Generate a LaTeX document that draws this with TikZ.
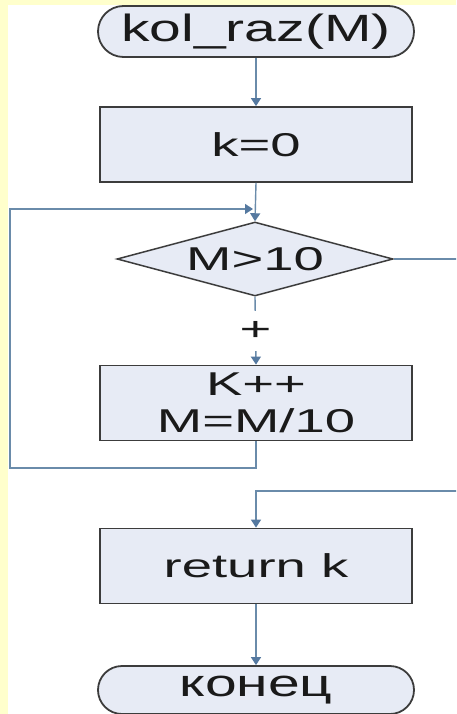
\documentclass[tikz,border=0pt]{standalone}
\usepackage{fontspec}
\usepackage{graphicx}
\setmainfont{Liberation Sans}
\usetikzlibrary{arrows.meta,shapes.geometric,shapes.misc}
\definecolor{bgyellow}{HTML}{FFFFCC}
\definecolor{connc}{HTML}{6A8BAA}
\definecolor{tipc}{HTML}{5579A0}
\definecolor{boxfill}{HTML}{E7EBF5}
\definecolor{boxline}{HTML}{3C3C3C}
\definecolor{txt}{HTML}{1A1A1A}
\newcommand{\wideB}[1]{\scalebox{1.65}[1]{#1}}
\newcommand{\wideT}[1]{\scalebox{1.5}[1]{#1}}
\begin{document}
\begin{tikzpicture}[x=1pt,y=-1pt,
  proc/.style={draw=boxline, line width=1.8pt, fill=boxfill, minimum width=312pt,
    minimum height=75pt, inner sep=0pt, text=txt, font=\fontsize{33}{37}\selectfont},
  term/.style={rounded rectangle, draw=boxline, line width=1.8pt, fill=boxfill,
    minimum width=316pt, inner sep=0pt, text=txt, font=\fontsize{38}{44}\selectfont},
  dec/.style={diamond, aspect=3.73, draw=boxline, line width=1.5pt, fill=boxfill,
    minimum width=276pt, minimum height=74pt, inner sep=0pt, text=txt, font=\fontsize{33}{37}\selectfont},
  conn/.style={draw=connc, line width=1.4pt},
  arr/.style={conn, -{Triangle[width=10pt,length=8pt,color=tipc]}},
  lbl/.style={fill=white, inner sep=0pt, minimum height=40pt, text=txt, font=\fontsize{33}{37}\selectfont}
]
\useasboundingbox (0,0) rectangle (456,714);
\clip (0,0) rectangle (456,714);
\fill[white] (0,0) rectangle (456,714);
\fill[bgyellow] (0,0) rectangle (8,714);
\fill[bgyellow] (0,0) rectangle (456,5);

\node[term, minimum height=51pt] (start) at (256,31.5) {\wideT{kol\_raz(M)}};
\node[proc] (k0) at (256,144.5) {\wideB{k=0}};
\node[dec] (cond) at (255,259) {\wideB{M>10}};
\node[proc, align=center] (body) at (256,403) {\wideB{K++}\\\wideB{M=M/10}};
\node[proc] (ret) at (256,566) {\wideB{return k}};
\node[term, minimum height=48pt] (end) at (256,690) {\wideT{конец}};

\coordinate (loopBL) at (10,468);
\coordinate (loopTL) at (10,209);
\coordinate (merge) at (253,209);
\coordinate (rTop) at (470,259);
\coordinate (rBot) at (470,491);

\draw[arr] (start.south) -- (k0.north);
\draw[arr] (k0.south) -- (cond.north);
\draw[arr] (cond.south) -- node[lbl] (plus) {\wideB{+}} (body.north);
\draw[arr] (body.south) |- (loopBL) -- (loopTL) -- (merge);
\draw[arr] (cond.east) -- (rTop) -- (rBot) -| (ret.north);
\draw[arr] (ret.south) -- (end.north);
\end{tikzpicture}
\end{document}
